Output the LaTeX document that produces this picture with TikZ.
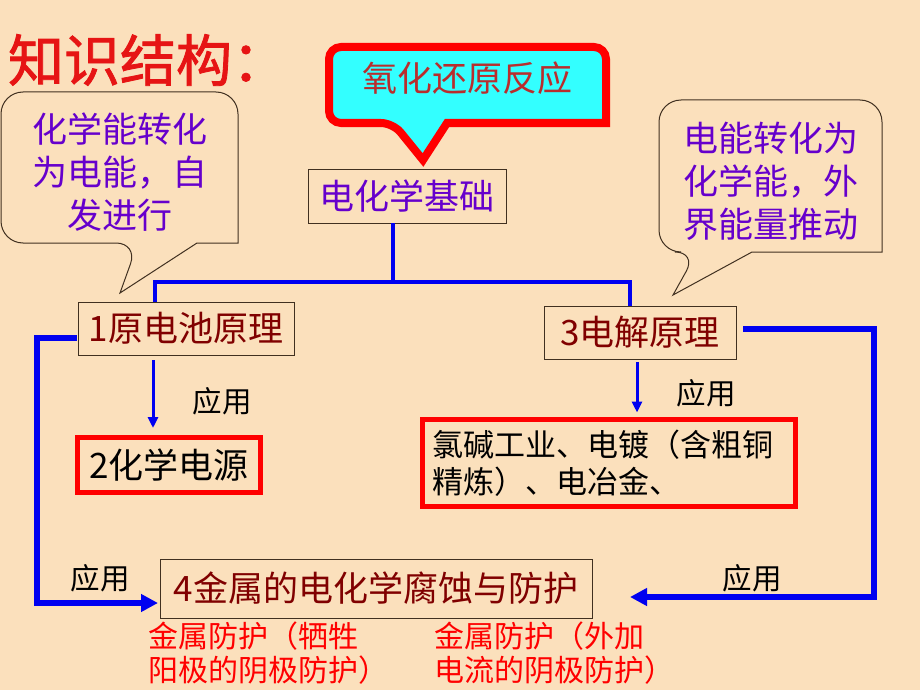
\documentclass[tikz,border=0pt]{standalone}
\usepackage{fontspec}
\setmainfont{Noto Sans CJK SC}
\newfontfamily\titlefont{Noto Sans CJK SC}[FakeBold=1.5]
\usetikzlibrary{arrows.meta,calc}
\definecolor{bg}{HTML}{FBE0BC}
\definecolor{boxline}{HTML}{403020}
\definecolor{purp}{HTML}{6600CC}
\definecolor{maroon}{HTML}{800000}
\definecolor{calred}{HTML}{FF0000}
\definecolor{calcyan}{HTML}{33FFFF}
\definecolor{oxtext}{RGB}{185,45,45}
\definecolor{bl}{HTML}{0000F0}
\definecolor{redtxt}{HTML}{FF0000}
\definecolor{titlered}{RGB}{230,20,20}
\begin{document}
\begin{tikzpicture}[x=1pt,y=-1pt,
  every node/.style={inner sep=0pt,outer sep=0pt},
  plainbox/.style={draw=boxline,line width=1pt,font=\fontsize{35}{42}\selectfont},
  redbox/.style={draw=calred,line width=5pt},
  callline/.style={draw=boxline,line width=1pt,fill=bg,line join=miter},
  tree/.style={draw=bl,line width=4.5pt,line join=miter},
  sarrow/.style={draw=bl,line width=3pt,-{Triangle[length=11pt,width=10pt]}},
  looparrow/.style={draw=bl,line width=6pt,line join=miter,-{Triangle[length=17pt,width=17pt]}},
  lab/.style={font=\fontsize{29.5}{34}\selectfont,text=black},
  calltext/.style={align=center,text=purp,font=\fontsize{35}{43}\selectfont},
  redlines/.style={align=left,text=redtxt,font=\fontsize{30}{34}\selectfont,anchor=west}
]
\fill[bg] (0,0) rectangle (920,690);
\useasboundingbox (0,0) rectangle (920,690);

% title
\node[anchor=west,text=titlered,font=\titlefont\fontsize{56}{60}\selectfont] (title) at (8,60) {知识结构：};

% left callout
\draw[callline] (120,293) -- (197,243) -- (238,243) [rounded corners=22pt] -- (238,92) -- (1,92) -- (1,243) -- (138,243) [sharp corners] -- cycle;
\node[calltext] (lt) at (120,172) {化学能转化\\为电能，自\\发进行};

% right callout
\draw[callline] (673,295) -- (752,252) -- (882,252) [rounded corners=22pt] -- (882,100) -- (659,100) -- (659,252) -- (697,252) [sharp corners] -- cycle;
\node[calltext] (rt) at (771,181) {电能转化为\\化学能，外\\界能量推动};

% top callout
\draw[line width=8pt,draw=calred,fill=calcyan,line join=miter] (423,160) -- (447,123) -- (606,123) [rounded corners=12pt] -- (606,47) -- (329,47) -- (329,123) -- (393,123) [sharp corners] -- cycle;
\node[text=oxtext,font=\fontsize{35}{42}\selectfont] (ox) at (467,78) {氧化还原反应};

% boxes
\node[plainbox,text=purp,minimum width=198pt,minimum height=54pt] (jc) at (407,196) {电化学基础};
\node[plainbox,text=maroon,minimum width=216pt,minimum height=53pt] (b1) at (186,328.5) {1原电池原理};
\node[plainbox,text=maroon,minimum width=192pt,minimum height=53pt] (b3) at (640,332.5) {3电解原理};
\node[plainbox,text=maroon,minimum width=432pt,minimum height=59pt] (b4) at (376,588.5) {4金属的电化学腐蚀与防护};
\node[redbox,minimum width=183pt,minimum height=55pt,font=\fontsize{35}{42}\selectfont] (b2) at (169,465) {2化学电源};
\node[redbox,minimum width=373pt,minimum height=87pt,text width=354pt,inner xsep=9.5pt,align=left,font=\fontsize{31}{37}\selectfont] (bapp) at (609,463) {氯碱工业、电镀（含粗铜\\精炼）、电冶金、};

% tree connectors
\draw[tree] ($(jc.south)+(-14,0)$) -- ++(0,59) coordinate (jn);
\draw[tree] ($(b1.north)+(-31,0)$) |- (jn) -| ($(b3.north)+(-10,0)$);

% short arrows
\draw[sarrow] ($(b1.south)+(-33,5)$) -- ($(b2.north)+(-16,-9.5)$);
\draw[sarrow] ($(b3.south)+(-3,3)$) -- ($(bapp.north)+(28,-7)$);

% loops
\draw[looparrow] ($(b1.west)+(-1,9)$) -- ++(-40,0) |- ($(b4.west)+(-2,14.5)$);
\draw[looparrow] ($(b3.east)+(7,-3.5)$) -- ++(131,0) |- ($(b4.east)+(38,8.5)$);

% labels
\node[lab] (l1) at (222,401) {应用};
\node[lab] (l2) at (706,393) {应用};
\node[lab] (l3) at (100,578) {应用};
\node[lab] (l4) at (752,578) {应用};

% red notes
\node[redlines] (r1) at (148,653) {金属防护（牺牲\\阳极的阴极防护）};
\node[redlines] (r2) at (434,653) {金属防护（外加\\电流的阴极防护）};
\end{tikzpicture}
\end{document}
